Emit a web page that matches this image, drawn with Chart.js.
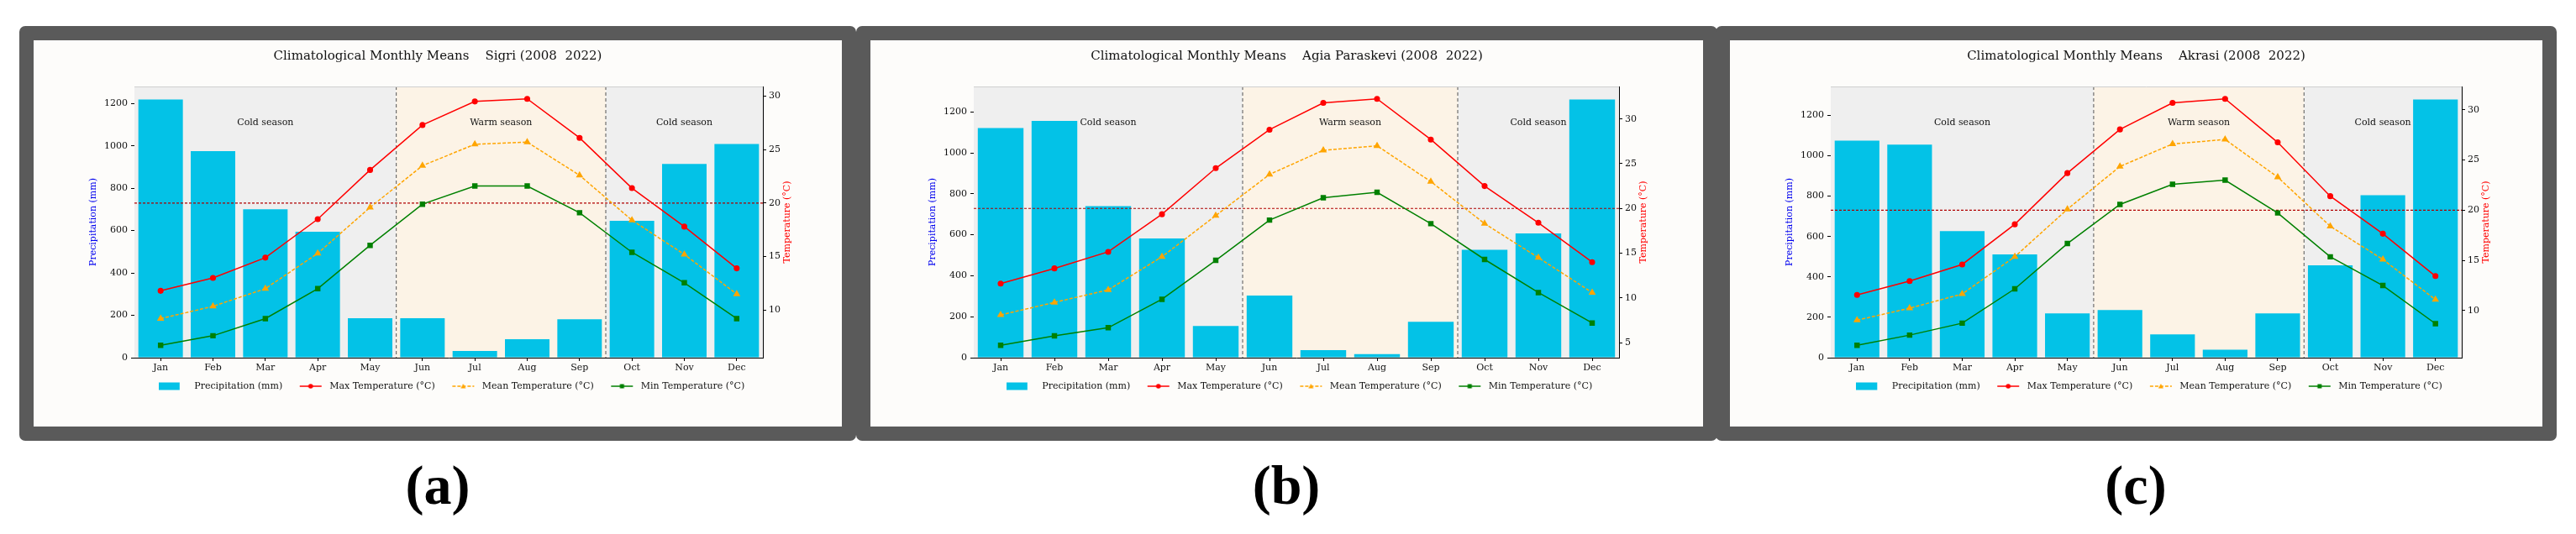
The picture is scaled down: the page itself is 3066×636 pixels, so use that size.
<!DOCTYPE html>
<html>
<head>
<meta charset="utf-8">
<script src="https://cdn.jsdelivr.net/npm/chart.js@4.4.1/dist/chart.umd.min.js"></script>
<style>
  body { margin: 0; background: #fff; width: 3066px; height: 636px; position: relative; overflow: hidden; }
  .frame { position: absolute; top: 31px; height: 460px; border: 17px solid #5a5a5a; border-radius: 7px; background: #fdfcfa; }
  .frame canvas { display: block; }
  .tag { position: absolute; top: 540px; width: 200px; height: 80px; line-height: 80px; text-align: center;
         font: bold 66px "Liberation Serif", serif; color: #000; }
</style>
</head>
<body>
<div class="frame" style="left:23px;width:962px"><canvas id="chartA" width="962" height="460"></canvas></div>
<div class="frame" style="left:1019px;width:991px"><canvas id="chartB" width="991" height="460"></canvas></div>
<div class="frame" style="left:2042px;width:967px"><canvas id="chartC" width="967" height="460"></canvas></div>
<div class="tag" style="left:421px">(a)</div>
<div class="tag" style="left:1431px">(b)</div>
<div class="tag" style="left:2442px">(c)</div>

<script>
// months on the x axis
const months = ["Jan", "Feb", "Mar", "Apr", "May", "Jun", "Jul", "Aug", "Sep", "Oct", "Nov", "Dec"];

// Sigri
const sigriPrecip = [1219, 975, 700, 594, 186, 186, 32, 87, 181, 646, 914, 1009];
const sigriTmax   = [11.8, 13.0, 14.9, 18.5, 23.1, 27.3, 29.5, 29.75, 26.1, 21.4, 17.8, 13.9];
const sigriTmean  = [9.2, 10.35, 12.0, 15.3, 19.6, 23.5, 25.5, 25.7, 22.6, 18.4, 15.2, 11.5];
const sigriTmin   = [6.7, 7.6, 9.2, 12.0, 16.05, 19.9, 21.6, 21.6, 19.1, 15.4, 12.55, 9.2];

// Agia Paraskevi
const agiaPrecip = [1121, 1156, 740, 582, 155, 303, 37, 17, 175, 527, 607, 1261];
const agiaTmax   = [11.6, 13.3, 15.15, 19.35, 24.5, 28.8, 31.8, 32.25, 27.7, 22.5, 18.4, 14.0];
const agiaTmean  = [8.1, 9.5, 10.9, 14.6, 19.2, 23.8, 26.5, 27.0, 23.0, 18.3, 14.5, 10.6];
const agiaTmin   = [4.7, 5.76, 6.67, 9.85, 14.2, 18.7, 21.2, 21.8, 18.3, 14.3, 10.6, 7.2];

// Akrasi
const akrasiPrecip = [1075, 1055, 627, 511, 219, 236, 115, 40, 219, 457, 805, 1279];
const akrasiTmax   = [11.56, 12.95, 14.6, 18.6, 23.7, 28.05, 30.7, 31.1, 26.76, 21.4, 17.66, 13.44];
const akrasiTmean  = [9.05, 10.24, 11.66, 15.37, 20.1, 24.36, 26.6, 27.05, 23.3, 18.4, 15.1, 11.1];
const akrasiTmin   = [6.54, 7.56, 8.75, 12.17, 16.68, 20.58, 22.58, 23.0, 19.73, 15.36, 12.5, 8.7];

// season split (between May/Jun and Sep/Oct) and label spots
const seasonBounds = [4.5, 8.5];
const seasonNames = ["Cold season", "Warm season", "Cold season"];
const seasonSpots = [2, 6.5, 10];
const heatLine = 20;
const precipStep = 200;
const tempStep = 5;

const BAR = "#03c2e7", RED = "#ff0000", ORANGE = "#ffa500", GREEN = "#008000";

Chart.defaults.font.family = '"DejaVu Serif", serif';
Chart.defaults.font.size = 11;
Chart.defaults.color = "#111";

// little canvases used as legend handles; a transparent left margin gives the gap between items
function handle(gap, draw) {
  const c = document.createElement("canvas");
  c.width = gap + 26 + 4; c.height = 10;
  const ctx = c.getContext("2d");
  ctx.translate(gap, 0);
  draw(ctx);
  return c;
}
function lineHandle(color, dash, marker) {
  return handle(14, ctx => {
    ctx.strokeStyle = color; ctx.fillStyle = color; ctx.lineWidth = 1.5;
    ctx.setLineDash(dash);
    ctx.beginPath(); ctx.moveTo(0, 5); ctx.lineTo(26, 5); ctx.stroke();
    ctx.setLineDash([]);
    ctx.beginPath();
    if (marker === "circle") ctx.arc(13, 5, 2.8, 0, Math.PI * 2);
    if (marker === "rect") ctx.rect(10.5, 2.5, 5, 5);
    if (marker === "tri") { ctx.moveTo(13, 2); ctx.lineTo(16, 7.5); ctx.lineTo(10, 7.5); ctx.closePath(); }
    ctx.fill();
  });
}
const handles = [
  handle(0, ctx => { ctx.fillStyle = BAR; ctx.fillRect(0, 0.5, 25, 9); }),
  lineHandle(RED, [], "circle"),
  lineHandle(ORANGE, [4, 2], "tri"),
  lineHandle(GREEN, [], "rect")
];

const seasonPlugin = {
  id: "seasons",
  beforeDatasetsDraw(chart) {
    const { ctx, chartArea: a, scales } = chart;
    const b1 = scales.x.getPixelForValue(seasonBounds[0]);
    const b2 = scales.x.getPixelForValue(seasonBounds[1]);
    ctx.save();
    ctx.fillStyle = "#efefef";
    ctx.fillRect(a.left, a.top, b1 - a.left, a.height);
    ctx.fillRect(b2, a.top, a.right - b2, a.height);
    ctx.fillStyle = "#fcf3e6";
    ctx.fillRect(b1, a.top, b2 - b1, a.height);

    ctx.strokeStyle = "#555"; ctx.lineWidth = 1; ctx.setLineDash([4, 3]);
    [b1, b2].forEach(px => {
      ctx.beginPath(); ctx.moveTo(px, a.top); ctx.lineTo(px, a.bottom); ctx.stroke();
    });
    ctx.setLineDash([]);
    ctx.strokeStyle = "#cfcfcf";
    ctx.beginPath(); ctx.moveTo(a.left, a.top + 0.5); ctx.lineTo(a.right, a.top + 0.5); ctx.stroke();

    const pmax = Math.max(...chart.data.datasets[0].data);
    const yText = scales.yP.getPixelForValue(pmax * 0.9);
    ctx.fillStyle = "#111"; ctx.font = '11px "DejaVu Serif"';
    ctx.textAlign = "center"; ctx.textBaseline = "alphabetic";
    seasonNames.forEach((s, i) => ctx.fillText(s, scales.x.getPixelForValue(seasonSpots[i]), yText));
    ctx.restore();
  },
  afterDatasetDraw(chart, args) {
    if (args.index !== 0) return;
    const { ctx, chartArea: a, scales } = chart;
    const y = scales.yT.getPixelForValue(heatLine);
    ctx.save();
    ctx.strokeStyle = "#b00000"; ctx.lineWidth = 1.2; ctx.setLineDash([3, 2]);
    ctx.beginPath(); ctx.moveTo(a.left, y); ctx.lineTo(a.right, y); ctx.stroke();
    ctx.restore();
  },
  afterDraw(chart) {
    // right axis label, reading bottom to top like the left one
    const { ctx, chartArea: a } = chart;
    ctx.save();
    ctx.translate(a.right + 29, (a.top + a.bottom) / 2);
    ctx.rotate(-Math.PI / 2);
    ctx.fillStyle = "#ff0000"; ctx.font = '11px "DejaVu Serif"';
    ctx.textAlign = "center"; ctx.textBaseline = "middle";
    ctx.fillText("Temperature (°C)", 0, 0);
    ctx.restore();
  }
};

const stations = [
  { id: "chartA", title: "Climatological Monthly Means    Sigri (2008  2022)",
    precip: sigriPrecip, tmax: sigriTmax, tmean: sigriTmean, tmin: sigriTmin, left: 120, right: 94 },
  { id: "chartB", title: "Climatological Monthly Means    Agia Paraskevi (2008  2022)",
    precip: agiaPrecip, tmax: agiaTmax, tmean: agiaTmean, tmin: agiaTmin, left: 123, right: 100 },
  { id: "chartC", title: "Climatological Monthly Means    Akrasi (2008  2022)",
    precip: akrasiPrecip, tmax: akrasiTmax, tmean: akrasiTmean, tmin: akrasiTmin, left: 120, right: 96 }
];

stations.forEach(st => {
  const temps = st.tmax.concat(st.tmean, st.tmin);
  const tLo = Math.min(...temps), tHi = Math.max(...temps);
  const tPad = (tHi - tLo) * 0.05;

  const axisTicks = { tickLength: 4, tickColor: "#000", drawOnChartArea: false };
  const plain = v => String(v);

  new Chart(document.getElementById(st.id), {
    type: "bar",
    data: {
      labels: months,
      datasets: [
        { type: "bar", label: "Precipitation (mm)", data: st.precip, yAxisID: "yP", order: 10,
          backgroundColor: BAR, barPercentage: 0.85, categoryPercentage: 1 },
        { type: "line", label: "Max Temperature (°C)", data: st.tmax, yAxisID: "yT", order: 3,
          borderColor: RED, backgroundColor: RED, borderWidth: 1.5, pointStyle: "circle", pointRadius: 2.8 },
        { type: "line", label: "Mean Temperature (°C)", data: st.tmean, yAxisID: "yT", order: 2,
          borderColor: ORANGE, backgroundColor: ORANGE, borderWidth: 1.5, borderDash: [4, 2],
          pointStyle: "triangle", pointRadius: 3.5 },
        { type: "line", label: "Min Temperature (°C)", data: st.tmin, yAxisID: "yT", order: 1,
          borderColor: GREEN, backgroundColor: GREEN, borderWidth: 1.5, pointStyle: "rect", pointRadius: 3.5 }
      ]
    },
    options: {
      responsive: false,
      animation: false,
      layout: { padding: { left: 0, right: 0, top: 0, bottom: 32.5 } },
      plugins: {
        title: { display: true, text: st.title, color: "#111", font: { size: 15, weight: "normal" },
                 padding: { top: 10, bottom: 27 } },
        legend: {
          position: "bottom", fullSize: false,
          labels: {
            usePointStyle: true, pointStyleWidth: 44, padding: 6.5, color: "#111",
            generateLabels: chart => chart.data.datasets.map((ds, i) => ({
              text: ds.label, pointStyle: handles[i], datasetIndex: i, hidden: false,
              lineWidth: 0, strokeStyle: "rgba(0,0,0,0)", fillStyle: "rgba(0,0,0,0)", fontColor: "#111"
            }))
          }
        },
        tooltip: { enabled: false }
      },
      scales: {
        x: {
          offset: true,
          grid: { ...axisTicks, offset: false },
          border: { color: "#000" },
          ticks: { padding: 2, maxRotation: 0, autoSkip: false },
          afterFit(s) { s.height = 22; }
        },
        yP: {
          position: "left", min: 0, max: Math.max(...st.precip) * 1.05,
          ticks: { stepSize: precipStep, includeBounds: false, padding: 4, callback: plain },
          grid: axisTicks,
          border: { color: "#000" },
          title: { display: true, text: "Precipitation (mm)", color: "#0000ee",
                   padding: { top: st.left - 49 - 6.6, bottom: 0 } },
          afterFit(s) { s.width = st.left; }
        },
        yT: {
          position: "right", min: tLo - tPad, max: tHi + tPad,
          ticks: { stepSize: tempStep, includeBounds: false, padding: 3, callback: plain },
          grid: axisTicks,
          border: { color: "#000" },
          afterFit(s) { s.width = st.right; }
        }
      }
    },
    plugins: [seasonPlugin]
  });
});
</script>
</body>
</html>
